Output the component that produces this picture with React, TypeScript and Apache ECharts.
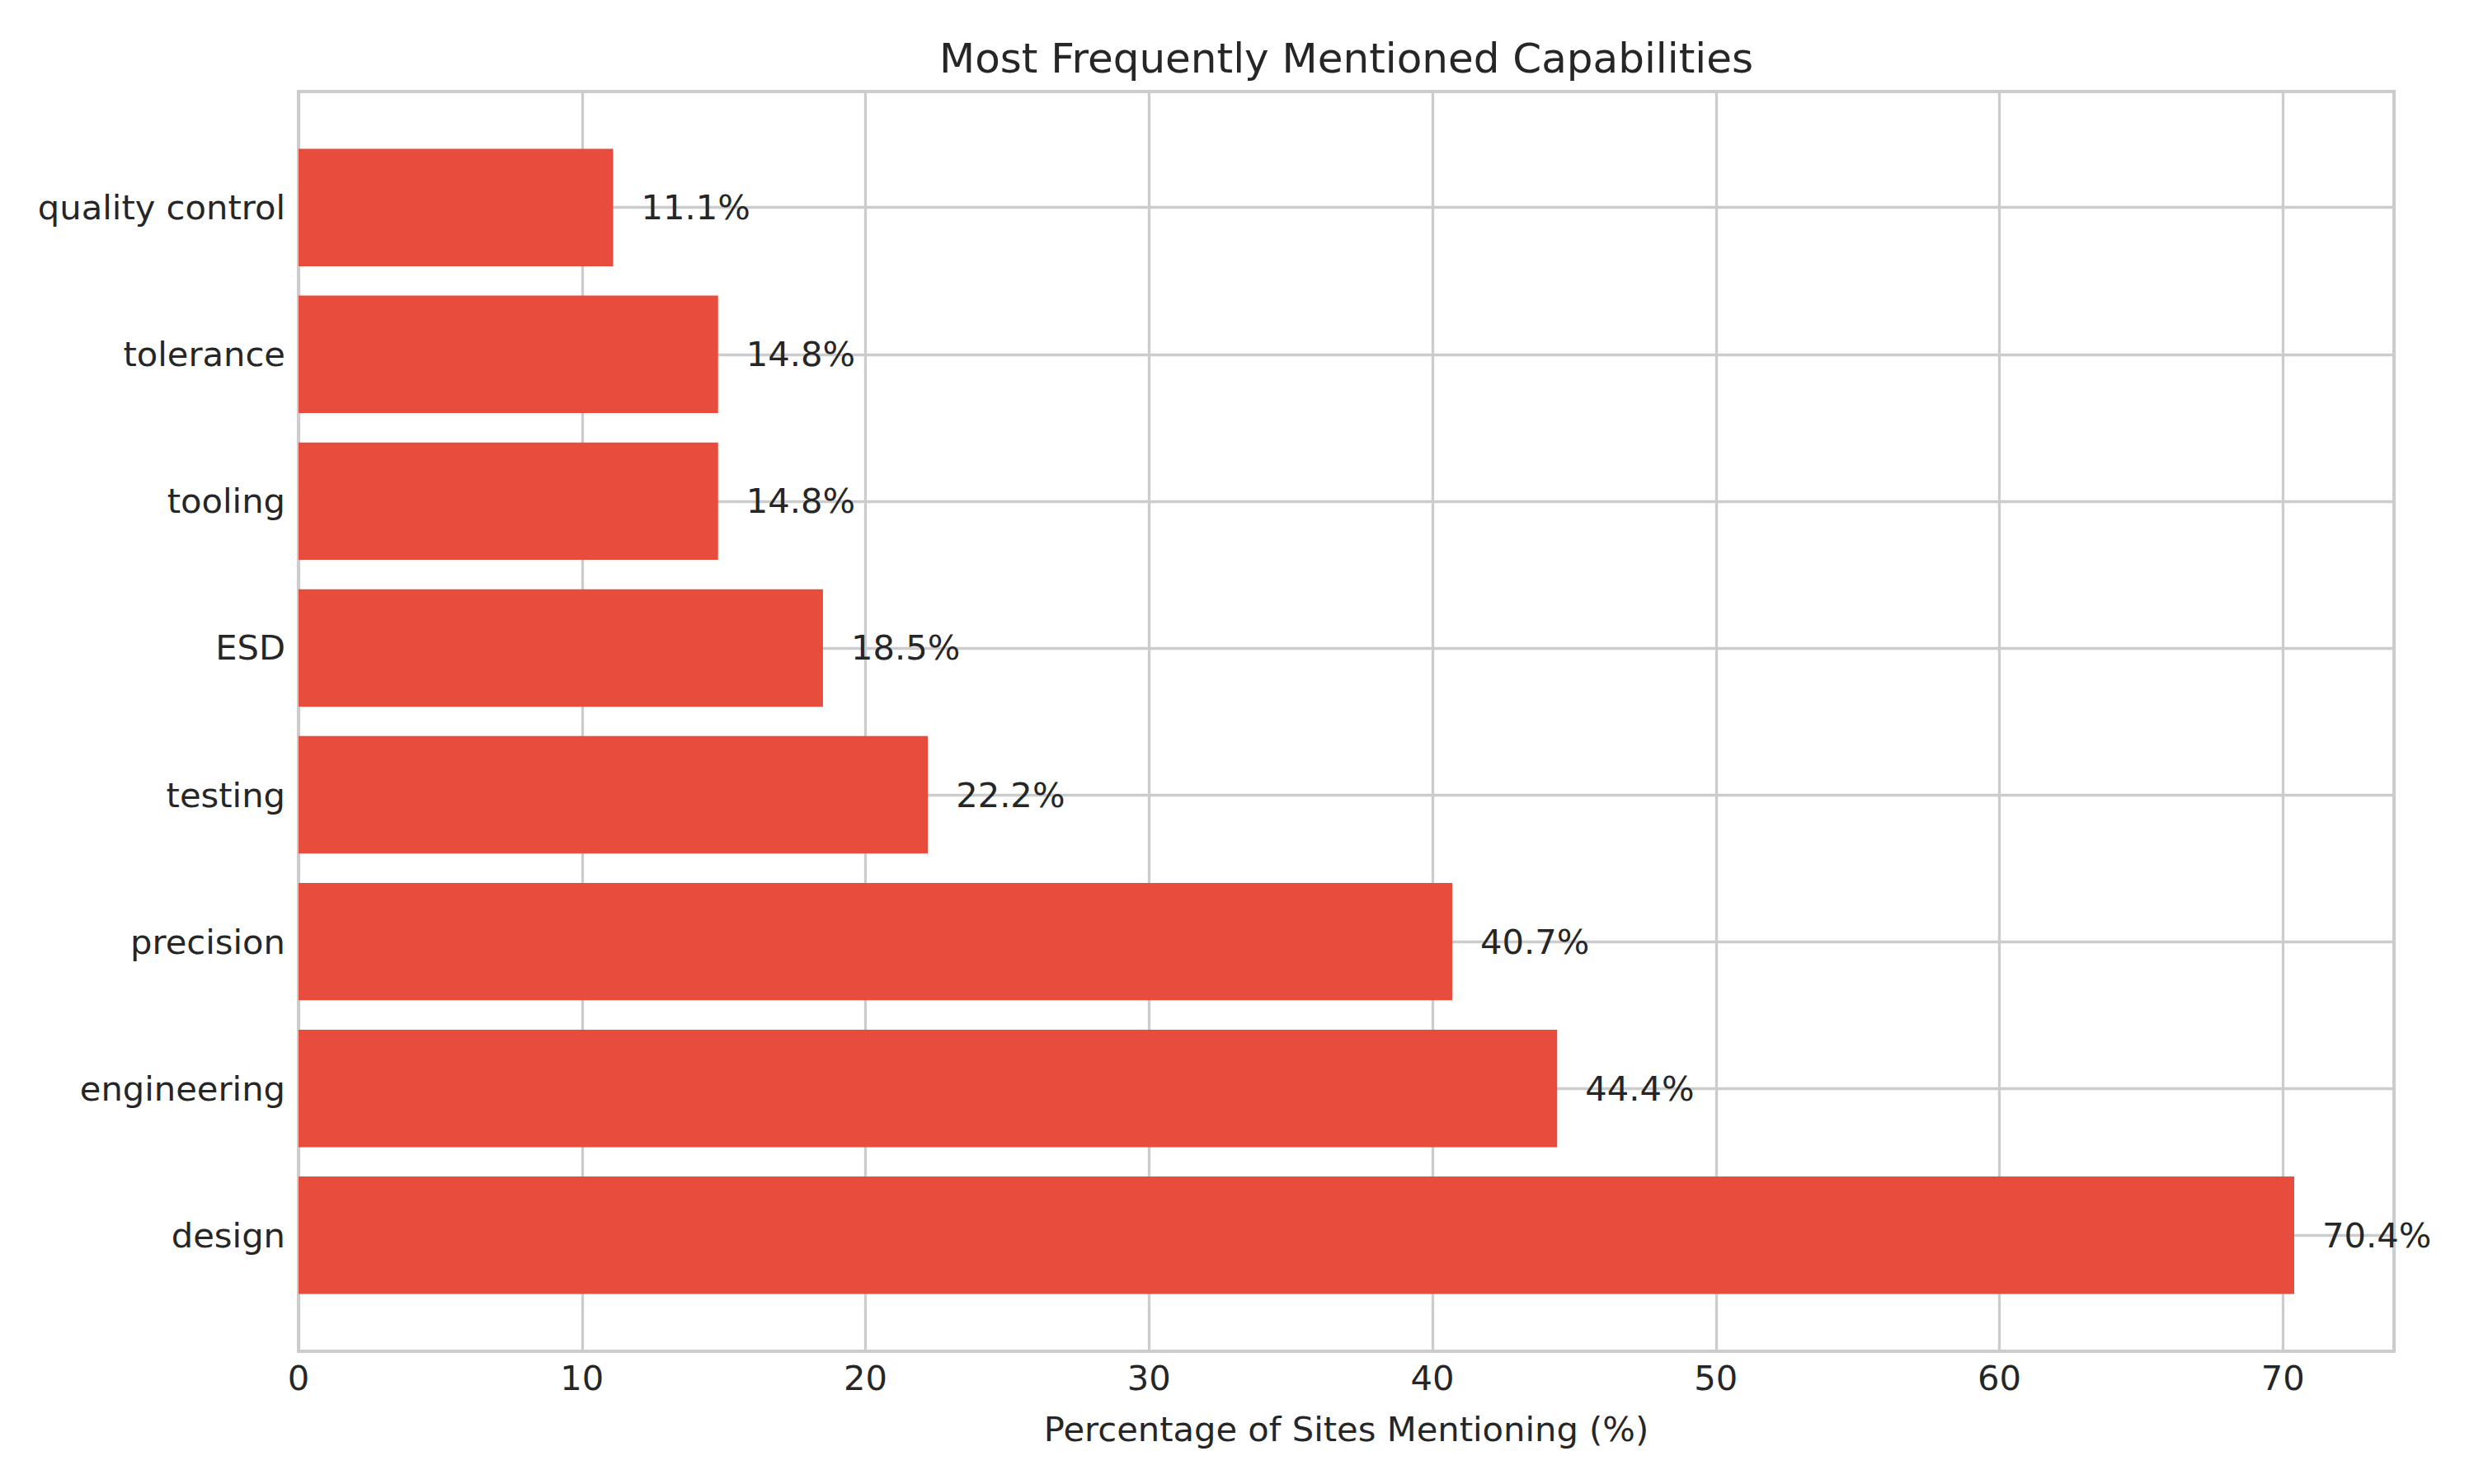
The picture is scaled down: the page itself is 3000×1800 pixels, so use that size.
import React, { useEffect, useRef } from "react";
import * as echarts from "echarts";

// Data (bottom-to-top order, as ECharts category y axis draws first item at bottom)
const categories = [
  "design",
  "engineering",
  "precision",
  "testing",
  "ESD",
  "tooling",
  "tolerance",
  "quality control",
];
const percentages = [70.4, 44.4, 40.7, 22.2, 18.5, 14.8, 14.8, 11.1];
const xTicks = [0, 10, 20, 30, 40, 50, 60, 70];
const X_MAX = 73.92;

const TITLE = "Most Frequently Mentioned Capabilities";
const X_NAME = "Percentage of Sites Mentioning (%)";

// Layout constants (pixels)
const W = 3000;
const H = 1800;
const PL = 362;
const PR = 2903;
const PT = 111;
const PB = 1639;
const Y_MIN = -0.79;
const Y_MAX = 7.79;

const FONT = "DejaVu Sans";
const FS = 41.67;
const TEXT = "#262626";
const GRID = "#cccccc";
const BAR = "#E74C3C";

export default function App() {
  const ref = useRef<HTMLDivElement>(null);

  useEffect(() => {
    if (!ref.current) return;
    const chart = echarts.init(ref.current, undefined, { renderer: "svg" });
    const unit = (PB - PT) / (Y_MAX - Y_MIN);
    const innerTop = PT + (Y_MAX - (categories.length - 0.5)) * unit;
    const innerBottom = PB - (-0.5 - Y_MIN) * unit;

    chart.setOption({
      animation: false,
      backgroundColor: "#ffffff",
      title: {
        text: TITLE,
        left: (PL + PR) / 2,
        textAlign: "center",
        top: 46,
        padding: 0,
        textStyle: { fontFamily: FONT, fontSize: 50, fontWeight: "normal", color: TEXT },
      },
      grid: [
        {
          left: PL,
          right: W - PR,
          top: innerTop,
          bottom: H - innerBottom,
          show: false,
        },
        {
          left: PL,
          right: W - PR,
          top: PT,
          bottom: H - PB,
          show: true,
          borderColor: GRID,
          borderWidth: 4,
          backgroundColor: "transparent",
        },
      ],
      xAxis: [
        {
          type: "value",
          gridIndex: 1,
          min: 0,
          max: X_MAX,
          interval: 10,
          axisLine: { show: false },
          axisTick: { show: false },
          splitLine: { show: true, lineStyle: { color: GRID, width: 3.3 } },
          axisLabel: {
            fontFamily: FONT,
            fontSize: FS,
            color: TEXT,
            margin: 11,
            showMaxLabel: false,
            formatter: (v: number) => (xTicks.includes(v) ? String(v) : ""),
          },
          name: X_NAME,
          nameLocation: "middle",
          nameGap: 73,
          nameTextStyle: { fontFamily: FONT, fontSize: FS, color: TEXT },
        },
        {
          type: "value",
          gridIndex: 0,
          min: 0,
          max: X_MAX,
          show: false,
          splitLine: { show: false },
        },
      ],
      yAxis: [
        {
          type: "category",
          gridIndex: 0,
          data: categories,
          axisLine: { show: false },
          axisTick: { show: false },
          splitLine: { show: false },
          axisLabel: {
            fontFamily: FONT,
            fontSize: FS,
            color: TEXT,
            margin: 16,
            padding: [4, 0, 0, 0],
          },
        },
        {
          type: "value",
          gridIndex: 1,
          min: 0,
          max: 1,
          show: false,
          splitLine: { show: false },
        },
      ],
      series: [
        {
          type: "line",
          xAxisIndex: 1,
          yAxisIndex: 0,
          data: [],
          silent: true,
          markLine: {
            silent: true,
            z: 1,
            symbol: ["none", "none"],
            label: { show: false },
            lineStyle: { color: GRID, width: 3.3, type: "solid" },
            emphasis: { disabled: true },
            data: categories.map((_, i) => ({ yAxis: i })),
          },
        },
        {
          type: "bar",
          xAxisIndex: 1,
          yAxisIndex: 0,
          z: 2,
          data: percentages,
          barWidth: "80%",
          itemStyle: { color: BAR },
          label: {
            show: true,
            position: "right",
            distance: 34,
            fontFamily: FONT,
            fontSize: FS,
            color: TEXT,
            formatter: (p: any) => p.value.toFixed(1) + "%",
          },
        },
      ],
    });

    return () => chart.dispose();
  }, []);

  return (
    <div
      ref={ref}
      style={{ position: "absolute", left: 0, top: 0, width: W, height: H }}
    />
  );
}
